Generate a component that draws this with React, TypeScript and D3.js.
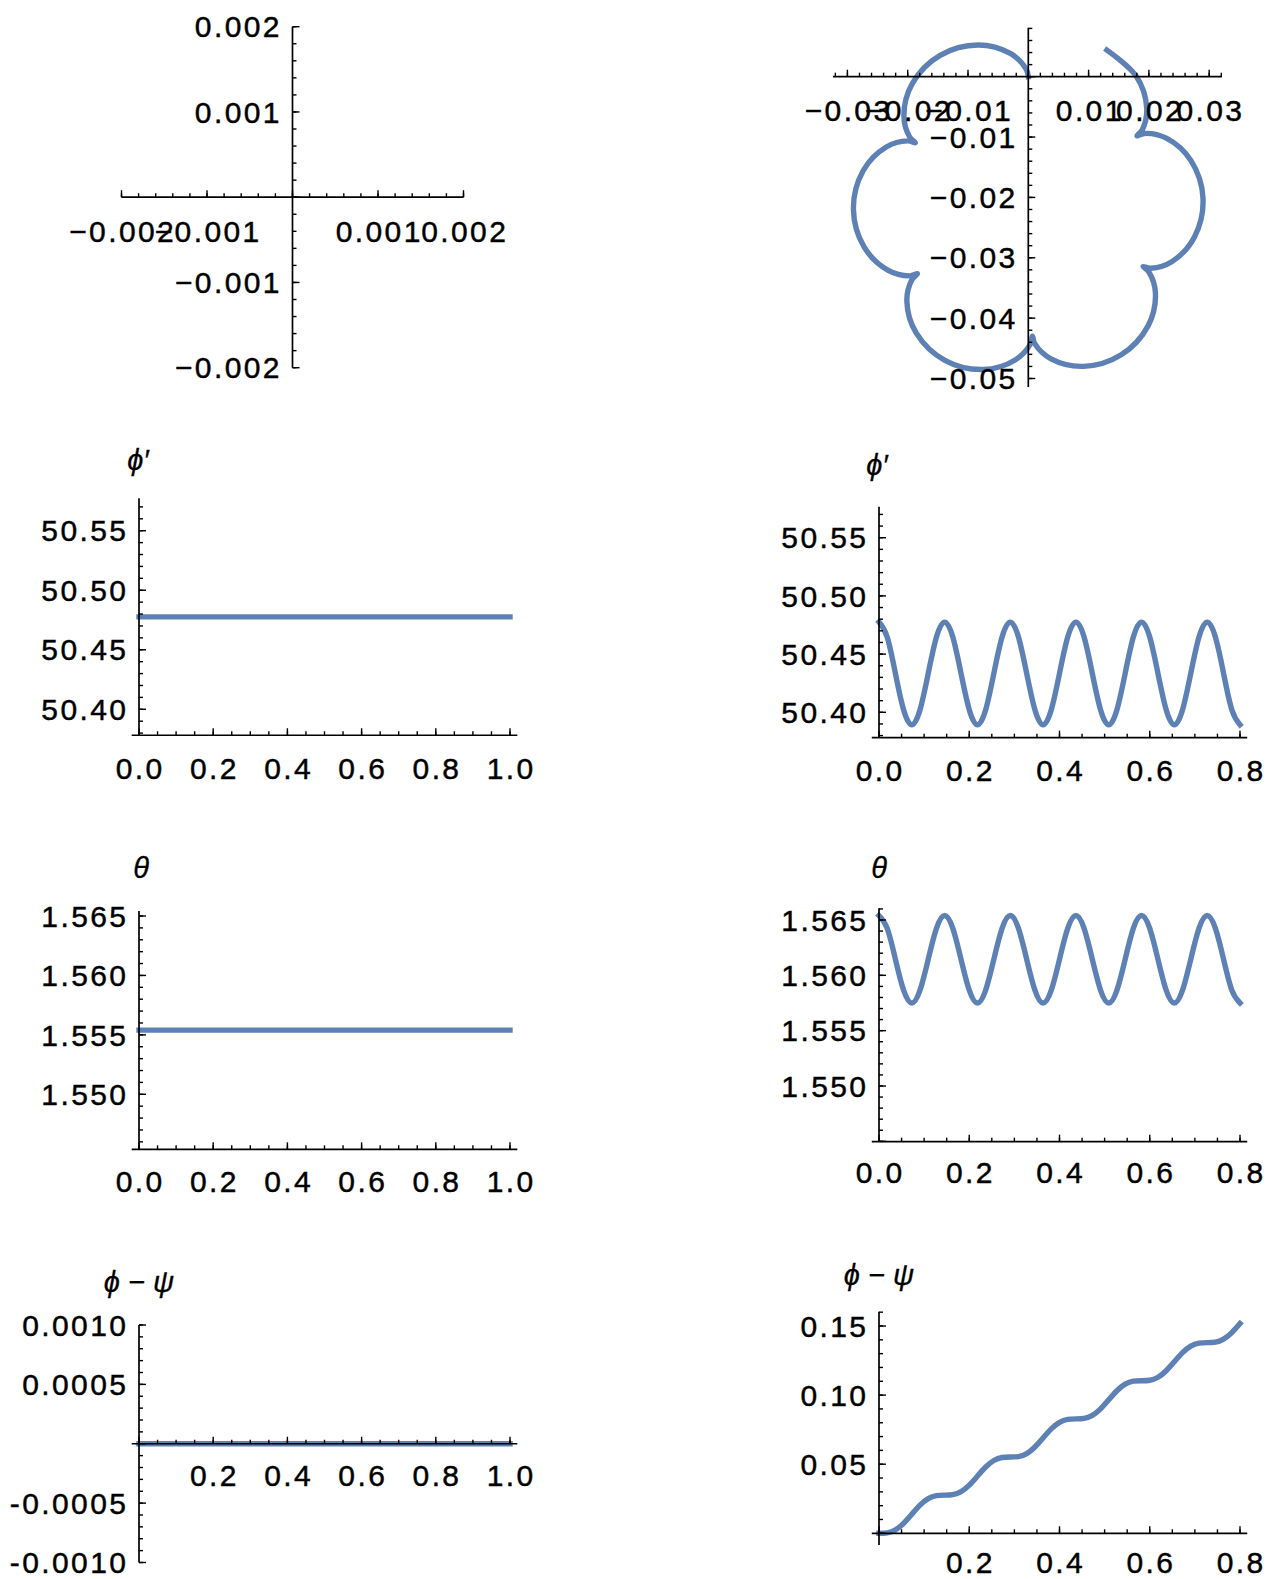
import React from 'react';
import * as d3 from 'd3';

// ---------- data ----------
const tGrid = [
  0, 0.0182, 0.0364, 0.0545, 0.0727, 0.0909, 0.1091, 0.1273, 0.1455, 0.1636,
  0.1818, 0.2, 0.2182, 0.2364, 0.2545, 0.2727, 0.2909, 0.3091, 0.3273, 0.3455,
  0.3636, 0.3818, 0.4, 0.4182, 0.4364, 0.4545, 0.4727, 0.4909, 0.5091, 0.5273,
  0.5455, 0.5636, 0.5818, 0.6, 0.6182, 0.6364, 0.6545, 0.6727, 0.6909, 0.7091,
  0.7273, 0.7455, 0.7636, 0.7818, 0.8,
];

const phiDotRight = [
  50.4775, 50.4646, 50.4334, 50.4022, 50.3893, 50.4022, 50.4334, 50.4646,
  50.4775, 50.4646, 50.4334, 50.4022, 50.3893, 50.4022, 50.4334, 50.4646,
  50.4775, 50.4646, 50.4334, 50.4022, 50.3893, 50.4022, 50.4334, 50.4646,
  50.4775, 50.4646, 50.4334, 50.4022, 50.3893, 50.4022, 50.4334, 50.4646,
  50.4775, 50.4646, 50.4334, 50.4022, 50.3893, 50.4022, 50.4334, 50.4646,
  50.4775, 50.4646, 50.4334, 50.4022, 50.3893,
];

const thetaRight = [
  1.5654, 1.56424, 1.56145, 1.55866, 1.5575, 1.55866, 1.56145, 1.56424,
  1.5654, 1.56424, 1.56145, 1.55866, 1.5575, 1.55866, 1.56145, 1.56424,
  1.5654, 1.56424, 1.56145, 1.55866, 1.5575, 1.55866, 1.56145, 1.56424,
  1.5654, 1.56424, 1.56145, 1.55866, 1.5575, 1.55866, 1.56145, 1.56424,
  1.5654, 1.56424, 1.56145, 1.55866, 1.5575, 1.55866, 1.56145, 1.56424,
  1.5654, 1.56424, 1.56145, 1.55866, 1.5575,
];

const phiPsiRight = [
  0, 0.00034, 0.00251, 0.00724, 0.0138, 0.02036, 0.02509, 0.02726,
  0.0276, 0.02794, 0.03011, 0.03484, 0.0414, 0.04796, 0.05269, 0.05486,
  0.0552, 0.05554, 0.05771, 0.06244, 0.069, 0.07556, 0.08029, 0.08246,
  0.0828, 0.08314, 0.08531, 0.09004, 0.0966, 0.10316, 0.10789, 0.11006,
  0.1104, 0.11074, 0.11291, 0.11764, 0.1242, 0.13076, 0.13549, 0.13766,
  0.138, 0.13834, 0.14051, 0.14524, 0.1518,
];

const flowerX = [
  0, -0.00035, -0.00298, -0.00833, -0.01463, -0.01922, -0.02063, -0.01965,
  -0.01873, -0.01999, -0.02355, -0.02741, -0.029, -0.02721, -0.02323, -0.01964,
  -0.01839, -0.01928, -0.02014, -0.01857, -0.01384, -0.00749, -0.00218, 0.00037,
  0.00068, 0.00107, 0.00377, 0.00917, 0.01541, 0.01986, 0.02109, 0.02,
  0.01905, 0.02032, 0.02385, 0.02758, 0.02897, 0.02698, 0.02289, 0.01927,
  0.01803, 0.01889, 0.01964, 0.01791, 0.01303,
];
const flowerY = [
  0, 0.00125, 0.00385, 0.00526, 0.00354, -0.0011, -0.00646, -0.01003,
  -0.01095, -0.01064, -0.01165, -0.01562, -0.02196, -0.02824, -0.03209, -0.03299,
  -0.03264, -0.03359, -0.03718, -0.04249, -0.04699, -0.04851, -0.04693, -0.04425,
  -0.04299, -0.04423, -0.04675, -0.04799, -0.04607, -0.04128, -0.03589, -0.03235,
  -0.03146, -0.03173, -0.03061, -0.02651, -0.02013, -0.01391, -0.01019, -0.0094,
  -0.00979, -0.00882, -0.00519, 0.00006, 0.00441,
];

const tFlat = [0, 1];
const phiDotLeft = [50.4776, 50.4776];
const thetaLeft = [1.5554, 1.5554];
const phiPsiLeft = [0, 0];

// ---------- tick labels ----------
const ticksA = [-0.002, -0.001, 0.001, 0.002];
const ticksALabels = ['−0.002', '−0.001', '0.001', '0.002'];
const ticksAY = [0.002, 0.001, -0.001, -0.002];
const ticksAYLabels = ['0.002', '0.001', '−0.001', '−0.002'];
const ticksBX = [-0.03, -0.02, -0.01, 0.01, 0.02, 0.03];
const ticksBXLabels = ['−0.03', '−0.02', '−0.01', '0.01', '0.02', '0.03'];
const ticksBY = [-0.01, -0.02, -0.03, -0.04, -0.05];
const ticksBYLabels = ['−0.01', '−0.02', '−0.03', '−0.04', '−0.05'];
const time10 = [0, 0.2, 0.4, 0.6, 0.8, 1.0];
const time10Labels = ['0.0', '0.2', '0.4', '0.6', '0.8', '1.0'];
const time08 = [0, 0.2, 0.4, 0.6, 0.8];
const time08Labels = ['0.0', '0.2', '0.4', '0.6', '0.8'];
const time10nz = [0.2, 0.4, 0.6, 0.8, 1.0];
const time10nzLabels = ['0.2', '0.4', '0.6', '0.8', '1.0'];
const time08nz = [0.2, 0.4, 0.6, 0.8];
const time08nzLabels = ['0.2', '0.4', '0.6', '0.8'];
const phiDotTicks = [50.4, 50.45, 50.5, 50.55];
const phiDotLabels = ['50.40', '50.45', '50.50', '50.55'];
const thetaTicks = [1.55, 1.555, 1.56, 1.565];
const thetaLabels = ['1.550', '1.555', '1.560', '1.565'];
const phiPsiLTicks = [0.001, 0.0005, -0.0005, -0.001];
const phiPsiLLabels = ['0.0010', '0.0005', '-0.0005', '-0.0010'];
const phiPsiRTicks = [0.05, 0.1, 0.15];
const phiPsiRLabels = ['0.05', '0.10', '0.15'];

// ---------- styling ----------
const BLUE = '#5E81B5';
const FONT = '"Liberation Sans", Arial, Helvetica, sans-serif';
const FS = 30;
const LS = 2.4;
const GFONT = '"Liberation Sans", "DejaVu Sans", sans-serif';

type Cfg = {
  xDomain: [number, number];
  xRange: [number, number];
  yDomain: [number, number];
  yRange: [number, number];
  xAxisAt: number;
  yAxisAt: number;
  xExtent: [number, number];
  yExtent: [number, number];
  xMajor: number;
  xMinor: number;
  yMajor: number;
  yMinor: number;
  xTicks: number[];
  xLabels: string[];
  yTicks: number[];
  yLabels: string[];
  xLabelDy: number;
  sx?: number[];
  sy?: number[];
  curve?: any;
  title?: string;
  titlePos?: [number, number];
};

function steps(ext: [number, number], step: number): number[] {
  const a = Math.ceil(ext[0] / step - 1e-6);
  const b = Math.floor(ext[1] / step + 1e-6);
  return d3.range(a, b + 1).map((k) => k * step);
}

function Panel({ c }: { c: Cfg }) {
  const x = d3.scaleLinear().domain(c.xDomain).range(c.xRange);
  const y = d3.scaleLinear().domain(c.yDomain).range(c.yRange);
  const ax = x(c.yAxisAt);
  const ay = y(c.xAxisAt);
  let path: string | null = null;
  if (c.sx && c.sy) {
    const sx = c.sx;
    const sy = c.sy;
    const line = d3
      .line<number>()
      .x((_, i) => x(sx[i]))
      .y((_, i) => y(sy[i]))
      .curve(c.curve || d3.curveLinear);
    path = line(sx.map((_, i) => i));
  }
  const xMin = steps(c.xExtent, c.xMinor);
  const xMaj = steps(c.xExtent, c.xMajor);
  const yMin = steps(c.yExtent, c.yMinor);
  const yMaj = steps(c.yExtent, c.yMajor);
  const MJ = 7;
  const MN = 4;
  return (
    <g>
      {path && (
        <path
          d={path}
          fill="none"
          stroke={BLUE}
          strokeWidth={5.4}
          strokeLinecap="square"
          strokeLinejoin="round"
        />
      )}
      <g stroke="#000" strokeWidth={1.4}>
        <line x1={x(c.xExtent[0])} x2={x(c.xExtent[1])} y1={ay} y2={ay} strokeWidth={1.7} />
        <line x1={ax} x2={ax} y1={y(c.yExtent[0])} y2={y(c.yExtent[1])} strokeWidth={1.7} />
        {xMin.map((v, i) => (
          <line key={'xm' + i} x1={x(v)} x2={x(v)} y1={ay} y2={ay - MN} />
        ))}
        {xMaj.map((v, i) => (
          <line key={'xM' + i} x1={x(v)} x2={x(v)} y1={ay} y2={ay - MJ} />
        ))}
        {yMin.map((v, i) => (
          <line key={'ym' + i} x1={ax} x2={ax + MN} y1={y(v)} y2={y(v)} />
        ))}
        {yMaj.map((v, i) => (
          <line key={'yM' + i} x1={ax} x2={ax + MJ} y1={y(v)} y2={y(v)} />
        ))}
      </g>
      <g
        fontFamily={FONT}
        fontSize={FS}
        fill="#000"
        stroke="#000"
        strokeWidth={0.45}
        style={{ letterSpacing: LS + 'px' }}
      >
        {c.xTicks.map((v, i) => (
          <text key={'xl' + i} x={x(v) + LS / 2} y={ay + c.xLabelDy + 10.7} textAnchor="middle">
            {c.xLabels[i]}
          </text>
        ))}
        {c.yTicks.map((v, i) => (
          <text key={'yl' + i} x={ax - 13 + LS} y={y(v) + 10.7} textAnchor="end">
            {c.yLabels[i]}
          </text>
        ))}
      </g>
      {c.title && c.titlePos && (
        <text
          x={c.titlePos[0]}
          y={c.titlePos[1] + 10}
          textAnchor="middle"
          fontFamily={GFONT}
          fontStyle="italic"
          fontSize={29}
          fill="#000"
          stroke="#000"
          strokeWidth={0.3}
        >
          {c.title}
        </text>
      )}
    </g>
  );
}

const cfgs: Cfg[] = [
  {
    xDomain: [-0.002, 0.002],
    xRange: [121.5, 463.5],
    yDomain: [-0.002, 0.002],
    yRange: [367.7, 26.7],
    xAxisAt: 0,
    yAxisAt: 0,
    xExtent: [-0.002, 0.002],
    yExtent: [-0.002, 0.002],
    xMajor: 0.001,
    xMinor: 0.0002,
    yMajor: 0.001,
    yMinor: 0.0002,
    xTicks: ticksA,
    xLabels: ticksALabels,
    yTicks: ticksAY,
    yLabels: ticksAYLabels,
    xLabelDy: 34.5,
  },
  {
    xDomain: [-0.03, 0.03],
    xRange: [847.4, 1209.2],
    yDomain: [-0.05, 0],
    yRange: [378.5, 76.7],
    xAxisAt: 0,
    yAxisAt: 0,
    xExtent: [-0.0324, 0.0321],
    yExtent: [-0.0514, 0.0081],
    xMajor: 0.01,
    xMinor: 0.002,
    yMajor: 0.01,
    yMinor: 0.002,
    xTicks: ticksBX,
    xLabels: ticksBXLabels,
    yTicks: ticksBY,
    yLabels: ticksBYLabels,
    xLabelDy: 33.3,
    sx: flowerX,
    sy: flowerY,
    curve: d3.curveCatmullRom.alpha(0.5),
  },
  {
    xDomain: [0, 1],
    xRange: [139, 510],
    yDomain: [50.4, 50.55],
    yRange: [709.3, 530.7],
    xAxisAt: 50.3782,
    yAxisAt: 0,
    xExtent: [-0.0197, 1.0197],
    yExtent: [50.3782, 50.5772],
    xMajor: 0.2,
    xMinor: 0.05,
    yMajor: 0.05,
    yMinor: 0.01,
    xTicks: time10,
    xLabels: time10Labels,
    yTicks: phiDotTicks,
    yLabels: phiDotLabels,
    xLabelDy: 33,
    sx: tFlat,
    sy: phiDotLeft,
    title: 'ϕ′',
    titlePos: [138, 460],
  },
  {
    xDomain: [0, 0.8],
    xRange: [879, 1240],
    yDomain: [50.4, 50.55],
    yRange: [712.3, 537.7],
    xAxisAt: 50.3782,
    yAxisAt: 0,
    xExtent: [-0.016, 0.816],
    yExtent: [50.3782, 50.5766],
    xMajor: 0.2,
    xMinor: 0.05,
    yMajor: 0.05,
    yMinor: 0.01,
    xTicks: time08,
    xLabels: time08Labels,
    yTicks: phiDotTicks,
    yLabels: phiDotLabels,
    xLabelDy: 32.3,
    sx: tGrid,
    sy: phiDotRight,
    curve: d3.curveNatural,
    title: 'ϕ′',
    titlePos: [877, 465],
  },
  {
    xDomain: [0, 1],
    xRange: [139, 510],
    yDomain: [1.55, 1.565],
    yRange: [1094.3, 916],
    xAxisAt: 1.54537,
    yAxisAt: 0,
    xExtent: [-0.0197, 1.0197],
    yExtent: [1.54537, 1.56542],
    xMajor: 0.2,
    xMinor: 0.05,
    yMajor: 0.005,
    yMinor: 0.001,
    xTicks: time10,
    xLabels: time10Labels,
    yTicks: thetaTicks,
    yLabels: thetaLabels,
    xLabelDy: 32.4,
    sx: tFlat,
    sy: thetaLeft,
    title: 'θ',
    titlePos: [141, 868],
  },
  {
    xDomain: [0, 0.8],
    xRange: [879, 1240],
    yDomain: [1.55, 1.565],
    yRange: [1086, 920],
    xAxisAt: 1.54497,
    yAxisAt: 0,
    xExtent: [-0.016, 0.816],
    yExtent: [1.54497, 1.56606],
    xMajor: 0.2,
    xMinor: 0.05,
    yMajor: 0.005,
    yMinor: 0.001,
    xTicks: time08,
    xLabels: time08Labels,
    yTicks: thetaTicks,
    yLabels: thetaLabels,
    xLabelDy: 30.8,
    sx: tGrid,
    sy: thetaRight,
    curve: d3.curveNatural,
    title: 'θ',
    titlePos: [879, 868],
  },
  {
    xDomain: [0, 1],
    xRange: [139, 510],
    yDomain: [-0.001, 0.001],
    yRange: [1562.5, 1325],
    xAxisAt: 0,
    yAxisAt: 0,
    xExtent: [-0.0197, 1.0197],
    yExtent: [-0.001, 0.001],
    xMajor: 0.2,
    xMinor: 0.05,
    yMajor: 0.0005,
    yMinor: 0.0001,
    xTicks: time10nz,
    xLabels: time10nzLabels,
    yTicks: phiPsiLTicks,
    yLabels: phiPsiLLabels,
    xLabelDy: 32,
    sx: tFlat,
    sy: phiPsiLeft,
    title: 'ϕ − ψ',
    titlePos: [139, 1282],
  },
  {
    xDomain: [0, 0.8],
    xRange: [879, 1240],
    yDomain: [0, 0.15],
    yRange: [1533.3, 1326],
    xAxisAt: 0,
    yAxisAt: 0,
    xExtent: [-0.016, 0.816],
    yExtent: [-0.0085, 0.1603],
    xMajor: 0.2,
    xMinor: 0.05,
    yMajor: 0.05,
    yMinor: 0.01,
    xTicks: time08nz,
    xLabels: time08nzLabels,
    yTicks: phiPsiRTicks,
    yLabels: phiPsiRLabels,
    xLabelDy: 29.4,
    sx: tGrid,
    sy: phiPsiRight,
    curve: d3.curveNatural,
    title: 'ϕ − ψ',
    titlePos: [879, 1275],
  },
];

export default function App() {
  return (
    <svg
      width={1266}
      height={1579}
      viewBox="0 0 1266 1579"
      style={{ position: 'absolute', left: 0, top: 0, background: '#fff' }}
    >
      <rect x={0} y={0} width={1266} height={1579} fill="#fff" />
      {cfgs.map((c, i) => (
        <Panel key={i} c={c} />
      ))}
    </svg>
  );
}
